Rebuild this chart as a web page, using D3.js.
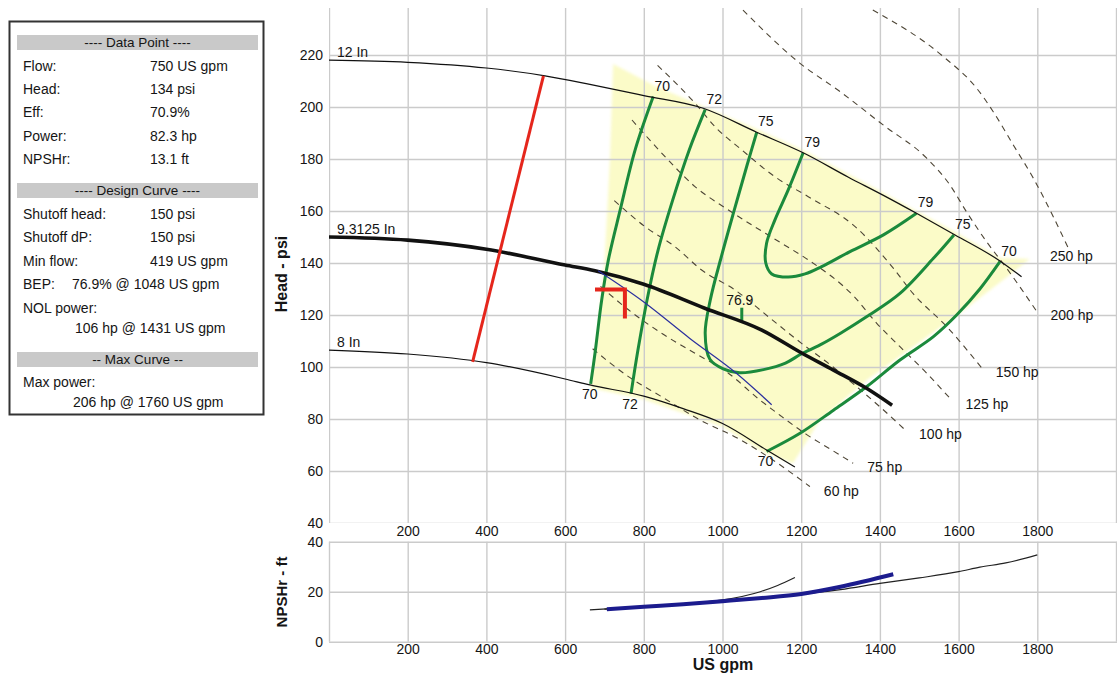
<!DOCTYPE html>
<html>
<head>
<meta charset="utf-8">
<script src="https://cdn.jsdelivr.net/npm/d3@7"></script>
<style>
    body { margin: 0; background: #fff; }
    svg { display: block; font-family: "Liberation Sans", Arial, Helvetica, sans-serif; }
</style>
</head>
<body>
<svg id="chart" width="1117" height="675"></svg>
<script>
// ---- axis ticks ----
const flowTicks = [200, 400, 600, 800, 1000, 1200, 1400, 1600, 1800];
const flowGrid = [0, 200, 400, 600, 800, 1000, 1200, 1400, 1600, 1800, 2000];
const headTicks = [40, 60, 80, 100, 120, 140, 160, 180, 200, 220];
const npshTicks = [0, 20, 40];

// ---- impeller curves (US gpm, psi) ----
const diaNames = ["12 In", "9.3125 In", "8 In"];
const head12 = [[0, 218], [200, 217.2], [400, 215], [549, 212], [663, 208.7], [800, 204.4], [951, 199.5],
    [1087, 190.3], [1205, 182.4], [1320, 173], [1409, 166], [1493, 159.1], [1591, 150.8], [1705, 140.8], [1760, 134.7]];
const head93 = [[0, 150], [200, 148.8], [400, 145.3], [600, 139.2], [676, 137], [800, 131.8], [955, 122.6],
    [1100, 114.2], [1200, 105.5], [1282, 98.8], [1366, 91.8], [1431, 85.3]];
const head8 = [[0, 106.5], [200, 105], [400, 101.7], [600, 95.4], [663, 93.1], [800, 88.8], [900, 84],
    [1000, 78.3], [1112, 68.1], [1184, 61.5]];

// ---- NPSHr curves (US gpm, ft) ----
const npsh12 = [[700, 13], [800, 13.9], [1000, 16], [1200, 19], [1300, 20.8], [1400, 23.3], [1500, 25.5],
    [1600, 28], [1654, 29.8], [1720, 31.5], [1800, 34.7]];
const npsh93 = [[706, 13], [800, 14], [900, 15], [1000, 16.2], [1100, 17.5], [1200, 19.1], [1300, 22], [1434, 27]];
const npsh8 = [[663, 12.7], [800, 14], [900, 15.2], [1000, 16.7], [1096, 20], [1140, 22.5], [1184, 25.7]];

// ---- other lines ----
const minFlowLine = [[365, 102], [545, 212]];
const systemCurve = [[684, 137], [800, 125], [917, 111], [1036, 97.5], [1125, 85.5]];
const opMarker = [[676, 129.8], [752, 129.8], [752, 118.7]];
const bepMark = [[1049, 117.5], [1049, 122.8]];
const bepLabel = "76.9";

// ---- efficiency contours (%) ----
const effLevels = ["70", "72", "75", "79", "70"];
const eff70a = [[824, 204], [778, 183.5], [740, 160.4], [710, 141.2], [693, 125.8], [676, 105.3], [665, 93.5]];
const eff72 = [[956, 199], [915, 183.3], [873, 164], [836, 144.8], [808, 125.6], [785, 106.4], [767.5, 89.7]];
const eff75 = [[1087, 190.3], [1062, 177.4], [1030, 160.4], [997, 142.4], [969, 125.8], [956, 113], [968, 103],
    [1002, 99.3], [1044, 97.8], [1104, 99], [1160, 101.5], [1200, 105], [1248, 108.5], [1300, 113], [1366, 119.3],
    [1451, 128.3], [1536, 141.8], [1588, 150.8]];
const eff79 = [[1205, 182.4], [1167, 168.1], [1133, 156.5], [1112, 147.6], [1110, 140], [1125, 135.8], [1167, 134.6],
    [1210, 135.8], [1252, 138.6], [1324, 144.4], [1409, 150.8], [1493, 159.1]];
const eff70b = [[1112, 67.5], [1197, 74.5], [1282, 83.4], [1366, 92.4], [1451, 102.7], [1536, 111.7], [1595, 120],
    [1654, 130], [1705, 140.5]];

// ---- power lines (hp) ----
const hpLevels = ["60 hp", "75 hp", "100 hp", "125 hp", "150 hp", "200 hp", "250 hp"];
const hp60 = [[670, 107], [761, 96.3], [845, 88.6], [943, 79.6], [1040, 72.5], [1140, 63], [1222, 54]];
const hp75 = [[690, 131], [761, 122], [845, 113], [930, 105.3], [1015, 97.6], [1091, 87.8], [1150, 81], [1214, 74],
    [1273, 68.5], [1332, 63]];
const hp100 = [[725, 164], [803, 154], [879, 146.3], [947, 137.3], [1032, 129.6], [1116, 119.4], [1201, 109.1],
    [1281, 100], [1341, 92.4], [1400, 84.7], [1464, 75.8]];
const hp125 = [[770, 195], [854, 180.9], [930, 169.4], [1015, 160.4], [1150, 147.6], [1218, 141.2], [1335, 127],
    [1392, 116.8], [1451, 107.8], [1519, 97.6], [1582, 87.3]];
const hp150 = [[835, 216], [934, 200.8], [981, 192.4], [1049, 183.5], [1133, 173.2], [1218, 165.5], [1337, 154],
    [1434, 138], [1484, 128.3], [1570, 115.5], [1659, 99.6]];
const hp200 = [[1052, 237.3], [1197, 216.8], [1299, 205.9], [1409, 193], [1519, 180.3], [1578, 170], [1620, 159.7],
    [1671, 148.2], [1722, 138], [1798, 121.5]];
const hp250 = [[1382, 237.3], [1561, 219.4], [1646, 207.2], [1688, 198.2], [1739, 185.4], [1790, 172.6], [1840, 158],
    [1878, 146]];

// preferred operating region (yellow)
const prefRegion = [[722, 216.5], [830, 208], [943, 200.8], [1087, 191.5], [1205, 183.5], [1409, 167], [1493, 160],
    [1591, 152], [1705, 142], [1781, 141.5], [1713, 133.5], [1604, 120.8], [1484, 107.7], [1367, 95], [1248, 79.6],
    [1179, 63], [1112, 66.5], [1000, 77], [800, 87.5], [663, 92], [680, 110], [700, 140], [714, 180]];

// ---- info panel ----
const pointRows = [["Flow:", "750 US gpm"], ["Head:", "134 psi"], ["Eff:", "70.9%"], ["Power:", "82.3 hp"], ["NPSHr:", "13.1 ft"]];
const designRows = [["Shutoff head:", "150 psi"], ["Shutoff dP:", "150 psi"], ["Min flow:", "419 US gpm"]];
const bepText = ["BEP:", "76.9% @ 1048 US gpm"];
const nolText = ["NOL power:", "106 hp @ 1431 US gpm"];
const maxText = ["Max power:", "206 hp @ 1760 US gpm"];
const panelTitles = ["---- Data Point ----", "---- Design Curve ----", "-- Max Curve --"];

// ---------------------------------------------------------------
const svg = d3.select("#chart");
const TEXT = "#151515";

var x = d3.scaleLinear().domain([0, 2000]).range([329, 1116]);
var yH = d3.scaleLinear().domain([40, 238]).range([523, 8.2]);
var yN = d3.scaleLinear().domain([0, 40]).range([641.7, 541.7]);

svg.append("defs").append("clipPath").attr("id", "plotClip")
    .append("rect").attr("x", 329).attr("y", 8).attr("width", 790).attr("height", 515);
svg.select("defs").append("filter").attr("id", "soft")
    .append("feGaussianBlur").attr("stdDeviation", 1.6);

// curves that run left to right use monotone, the closed contours catmull-rom
var lineH = d3.line().x(d => x(d[0])).y(d => yH(d[1])).curve(d3.curveMonotoneX);
var contourH = d3.line().x(d => x(d[0])).y(d => yH(d[1])).curve(d3.curveCatmullRom.alpha(0.5));
var lineN = d3.line().x(d => x(d[0])).y(d => yN(d[1])).curve(d3.curveMonotoneX);
var straightH = d3.line().x(d => x(d[0])).y(d => yH(d[1]));

// main plot
var plot = svg.append("g").attr("clip-path", "url(#plotClip)");

plot.append("path")
    .datum(prefRegion)
    .attr("d", d3.line().x(d => x(d[0])).y(d => yH(d[1])).curve(d3.curveLinearClosed))
    .attr("fill", "#fbfbc8")
    .attr("filter", "url(#soft)");

function grid(g, yScale, top, bottom, rows) {
    g.append("g")
        .attr("transform", "translate(0," + bottom + ")")
        .call(d3.axisBottom(x).tickValues(flowGrid).tickSize(-(bottom - top)).tickFormat(""))
        .call(a => a.select(".domain").remove());
    g.append("g")
        .attr("transform", "translate(329,0)")
        .call(d3.axisLeft(yScale).tickValues(rows).tickSize(-790).tickFormat(""))
        .call(a => a.select(".domain").remove());
    g.selectAll(".tick line").attr("stroke", "#cbcbcb").attr("stroke-width", 1.4);
}
grid(plot.append("g"), yH, 8, 523, headTicks);

// power lines
var hpLines = [hp60, hp75, hp100, hp125, hp150, hp200, hp250];
plot.append("g").selectAll("path")
    .data(hpLines)
    .enter()
    .append("path")
    .attr("d", lineH)
    .attr("fill", "none")
    .attr("stroke", "#4d4535")
    .attr("stroke-width", 1.1)
    .attr("stroke-dasharray", "6,5");

// efficiency contours
var effCurves = [eff70a, eff72, eff75, eff79, eff70b];
plot.append("g").selectAll("path")
    .data(effCurves)
    .enter()
    .append("path")
    .attr("d", contourH)
    .attr("fill", "none")
    .attr("stroke", "#1b8a3c")
    .attr("stroke-width", 3);

plot.append("path").datum(bepMark).attr("d", straightH)
    .attr("stroke", "#1b8a3c").attr("stroke-width", 3);

// impeller curves
var diaCurves = [head12, head93, head8];
var diaWidth = { "12 In": 1.2, "9.3125 In": 3.6, "8 In": 1.2 };
plot.append("g").selectAll("path")
    .data(diaCurves)
    .enter()
    .append("path")
    .attr("d", lineH)
    .attr("fill", "none")
    .attr("stroke", "#111")
    .attr("stroke-width", (d, i) => diaWidth[diaNames[i]]);

plot.append("path").datum(systemCurve).attr("d", lineH)
    .attr("fill", "none").attr("stroke", "#2b2f9e").attr("stroke-width", 1.2);

plot.append("path").datum(minFlowLine).attr("d", straightH)
    .attr("stroke", "#e5261c").attr("stroke-width", 3);

plot.append("path").datum(opMarker).attr("d", straightH)
    .attr("fill", "none").attr("stroke", "#e5261c").attr("stroke-width", 4);

// labels
var labels = svg.append("g").attr("font-size", 14).attr("fill", TEXT);

diaCurves.forEach((c, i) => {
    labels.append("text")
        .attr("x", x(c[0][0]) + 8)
        .attr("y", yH(c[0][1]) - 8)
        .attr("dy", "0.35em")
        .text(diaNames[i]);
});

effCurves.forEach((c, i) => {
    [[c[0], c[1]], [c[c.length - 1], c[c.length - 2]]].forEach(([end, next]) => {
        var atTop = end[1] > next[1];
        labels.append("text")
            .attr("x", x(end[0]) + (atTop ? 9 : -1))
            .attr("y", yH(end[1]) + (atTop ? -11 : 10))
            .attr("dy", "0.35em")
            .attr("text-anchor", "middle")
            .text(effLevels[i]);
    });
});

labels.append("text")
    .attr("x", x(bepMark[0][0]) - 2)
    .attr("y", yH(bepMark[1][1]) - 8)
    .attr("dy", "0.35em")
    .attr("text-anchor", "middle")
    .text(bepLabel);

hpLines.forEach((c, i) => {
    var end = c[c.length - 1];
    var last = i === hpLines.length - 1;
    labels.append("text")
        .attr("x", x(end[0]) + (last ? -18 : 14))
        .attr("y", yH(end[1]) + (last ? 9 : 4))
        .attr("dy", "0.35em")
        .text(hpLevels[i]);
});

// main axes labels
function tickLabels(g, axis) {
    g.call(axis.tickFormat(d3.format("d"))).call(a => a.select(".domain").remove());
    g.selectAll("text").attr("font-size", 14).attr("fill", TEXT)
        .attr("font-family", "Liberation Sans, Arial, sans-serif");
}
tickLabels(svg.append("g").attr("transform", "translate(0,523)"),
    d3.axisBottom(x).tickValues(flowTicks).tickSize(0).tickPadding(3));
tickLabels(svg.append("g").attr("transform", "translate(329,0)"),
    d3.axisLeft(yH).tickValues(headTicks).tickSize(0).tickPadding(6));

// NPSH panel
var npsh = svg.append("g");
grid(npsh.append("g"), yN, 541.7, 641.7, npshTicks);

npsh.append("g").selectAll("path")
    .data([npsh12, npsh8])
    .enter()
    .append("path")
    .attr("d", lineN)
    .attr("fill", "none")
    .attr("stroke", "#222")
    .attr("stroke-width", 1.2);

npsh.append("path").datum(npsh93).attr("d", lineN)
    .attr("fill", "none").attr("stroke", "#1c1c8e").attr("stroke-width", 4);

tickLabels(svg.append("g").attr("transform", "translate(0,641.7)"),
    d3.axisBottom(x).tickValues(flowTicks).tickSize(0).tickPadding(2));
tickLabels(svg.append("g").attr("transform", "translate(329,0)"),
    d3.axisLeft(yN).tickValues(npshTicks).tickSize(0).tickPadding(6));

// axis titles
svg.append("text")
    .attr("transform", "translate(287,274)rotate(-90)")
    .attr("text-anchor", "middle")
    .attr("font-weight", "bold")
    .attr("font-size", 16)
    .attr("fill", TEXT)
    .text("Head - psi");

svg.append("text")
    .attr("transform", "translate(287,592)rotate(-90)")
    .attr("text-anchor", "middle")
    .attr("font-weight", "bold")
    .attr("font-size", 15)
    .attr("fill", TEXT)
    .text("NPSHr - ft");

svg.append("text")
    .attr("x", 723)
    .attr("y", 670)
    .attr("text-anchor", "middle")
    .attr("font-weight", "bold")
    .attr("font-size", 16)
    .attr("fill", TEXT)
    .text("US gpm");

// info panel
var panel = svg.append("g").attr("font-size", 14).attr("fill", TEXT);
panel.append("rect")
    .attr("x", 9.5).attr("y", 21.5).attr("width", 254).attr("height", 393)
    .attr("fill", "#fff").attr("stroke", "#333").attr("stroke-width", 2);

function bar(y, text) {
    panel.append("rect").attr("x", 17).attr("y", y).attr("width", 241).attr("height", 15).attr("fill", "#c9c9c9");
    panel.append("text").attr("x", 137.5).attr("y", y + 7.5).attr("dy", "0.35em")
        .attr("text-anchor", "middle").attr("font-size", 13.5).text(text);
}
function row(y, label, value, valueX) {
    panel.append("text").attr("x", 23).attr("y", y).attr("dy", "0.35em").text(label);
    if (value) panel.append("text").attr("x", valueX).attr("y", y).attr("dy", "0.35em").text(value);
}

bar(35, panelTitles[0]);
pointRows.forEach((r, i) => row(65.7 + i * 23.4, r[0], r[1], 150));
bar(183, panelTitles[1]);
designRows.forEach((r, i) => row(214 + i * 23.4, r[0], r[1], 150));
row(284.2, bepText[0], bepText[1], 72);
row(307.6, nolText[0]);
panel.append("text").attr("x", 75).attr("y", 328).attr("dy", "0.35em").text(nolText[1]);
bar(352, panelTitles[2]);
row(381.7, maxText[0]);
panel.append("text").attr("x", 73).attr("y", 401.7).attr("dy", "0.35em").text(maxText[1]);
</script>
</body>
</html>
